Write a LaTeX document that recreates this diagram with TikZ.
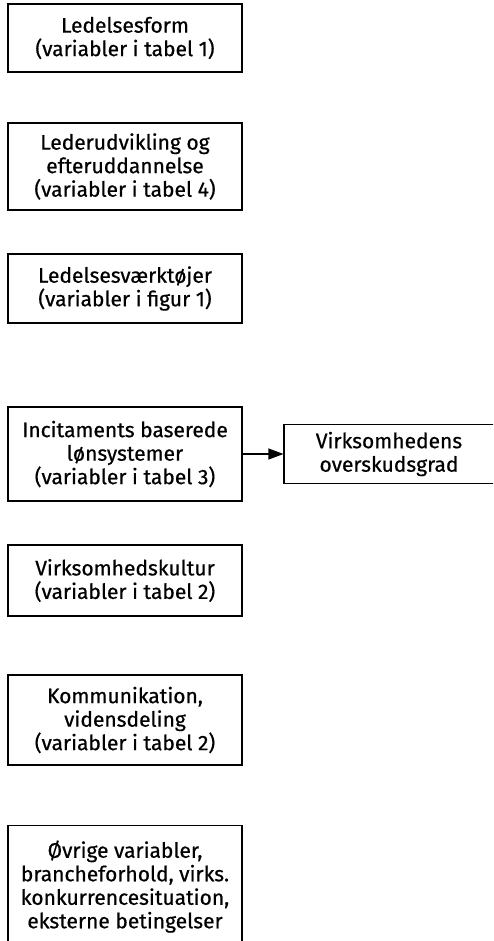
\documentclass[tikz,border=0pt]{standalone}
\usepackage{fontspec}
\setmainfont{Fira Sans}[FakeBold=0.6]
\usetikzlibrary{arrows.meta}
\begin{document}
\begin{tikzpicture}[x=1pt,y=-1pt,
  txt/.style={align=center, inner sep=0pt, font=\fontsize{21}{23.5}\selectfont},
  box/.style={txt, draw, line width=1.1pt},
  conn/.style={line width=1.1pt, -{Stealth[length=15pt,width=11pt,inset=0pt]}}]
\useasboundingbox (0,0) rectangle (493,941);
\clip (0,0) rectangle (493,941);
\node[box, minimum width=234pt, minimum height=68pt] (b1) at (125,38)
  {Ledelsesform\\(variabler i tabel 1)};
\node[box, minimum width=234pt, minimum height=87pt] (b2) at (125,166.5)
  {Lederudvikling og\\efteruddannelse\\(variabler i tabel 4)};
\node[box, minimum width=234pt, minimum height=69pt] (b3) at (125,288.5)
  {Ledelsesværktøjer\\(variabler i figur 1)};
\node[box, minimum width=234pt, minimum height=94pt] (b4) at (125,454)
  {Incitaments baserede\\lønsystemer\\(variabler i tabel 3)};
\node[box, minimum width=240pt, minimum height=59pt] (r) at (404,454) {};
\node[txt] (rt) at (389,454) {Virksomhedens\\overskudsgrad};
\node[box, minimum width=234pt, minimum height=71pt] (b5) at (125,580.5)
  {Virksomhedskultur\\(variabler i tabel 2)};
\node[box, minimum width=234pt, minimum height=90pt] (b6) at (125,720)
  {Kommunikation,\\vidensdeling\\(variabler i tabel 2)};
\node[box, minimum width=234pt, anchor=north, inner ysep=15pt] (b7) at (125,825)
  {Øvrige variabler,\\brancheforhold, virks.\\konkurrencesituation,\\eksterne betingelser};
\draw[conn] (b4) -- (r);
\end{tikzpicture}
\end{document}
